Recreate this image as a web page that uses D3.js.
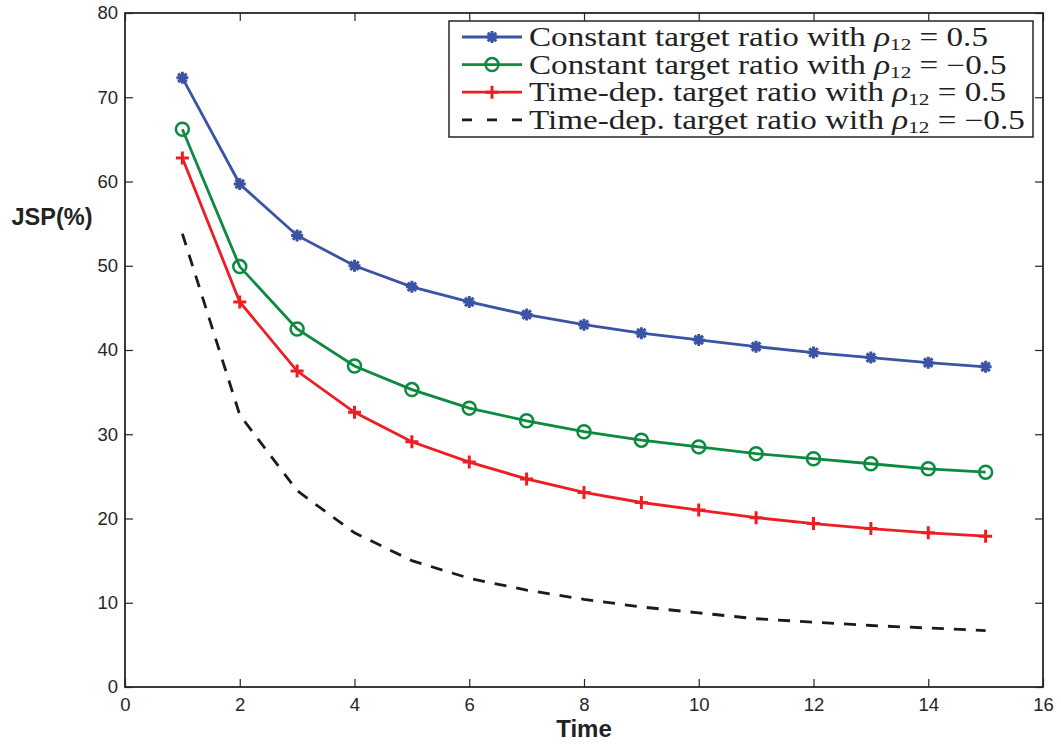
<!DOCTYPE html>
<html>
<head>
<meta charset="utf-8">
<script src="https://cdn.jsdelivr.net/npm/d3@7"></script>
<style>
  body { margin: 0; background: #fff; }
  svg { display: block; }
</style>
</head>
<body>
<div></div>
<script>
const width = 1061;
const height = 744;
const margin = { top: 13, right: 18, bottom: 57, left: 125 };

// values
const times = [1, 2, 3, 4, 5, 6, 7, 8, 9, 10, 11, 12, 13, 14, 15];
const constPos = [72.3, 59.7, 53.6, 50.0, 47.5, 45.7, 44.2, 43.0, 42.0, 41.2, 40.4, 39.7, 39.1, 38.5, 38.0];
const constNeg = [66.2, 49.9, 42.5, 38.1, 35.3, 33.1, 31.6, 30.3, 29.3, 28.5, 27.7, 27.1, 26.5, 25.9, 25.5];
const timePos = [62.8, 45.7, 37.5, 32.6, 29.1, 26.7, 24.7, 23.1, 21.9, 21.0, 20.1, 19.4, 18.8, 18.3, 17.9];
const timeNeg = [53.8, 32.3, 23.3, 18.3, 15.0, 12.9, 11.5, 10.4, 9.5, 8.8, 8.1, 7.7, 7.3, 7.0, 6.7];

const xTicks = [0, 2, 4, 6, 8, 10, 12, 14, 16];
const yTicks = [0, 10, 20, 30, 40, 50, 60, 70, 80];

const legendNames = [
  { pre: "Constant target ratio with ", post: " = 0.5" },
  { pre: "Constant target ratio with ", post: " = \u22120.5" },
  { pre: "Time-dep. target ratio with ", post: " = 0.5" },
  { pre: "Time-dep. target ratio with ", post: " = \u22120.5" },
];

const series = [
  { values: constPos, color: "#3a53a4", marker: "star", dash: null },
  { values: constNeg, color: "#0c8a3e", marker: "circle", dash: null },
  { values: timePos, color: "#ee1d24", marker: "plus", dash: null },
  { values: timeNeg, color: "#1c1a1a", marker: null, dash: "12,10" },
];

const svg = d3
  .select("div")
  .append("svg")
  .attr("width", width)
  .attr("height", height);

const xScale = d3
  .scaleLinear()
  .domain([0, 16])
  .range([margin.left, width - margin.right]);

const yScale = d3
  .scaleLinear()
  .domain([0, 80])
  .range([height - margin.bottom, margin.top]);

const tickFont = "'Liberation Sans', Arial, sans-serif";
const axisColor = "#262626";

// axes with inward ticks
const xAxis = d3.axisBottom(xScale).tickValues(xTicks).tickSizeInner(-8).tickSizeOuter(0).tickPadding(11);
const yAxis = d3.axisLeft(yScale).tickValues(yTicks).tickSizeInner(-8).tickSizeOuter(0).tickPadding(7);
const xTop = d3.axisTop(xScale).tickValues(xTicks).tickSizeInner(-8).tickSizeOuter(0).tickFormat("");
const yRight = d3.axisRight(yScale).tickValues(yTicks).tickSizeInner(-8).tickSizeOuter(0).tickFormat("");

function styleAxis(g) {
  g.select(".domain").remove();
  g.selectAll(".tick line").attr("stroke", axisColor).attr("stroke-width", 1.2);
  g.selectAll(".tick text")
    .attr("fill", "#262626")
    .style("font-family", tickFont)
    .style("font-size", "18.5px");
}

svg.append("g")
  .attr("transform", "translate(0," + yScale(0) + ")")
  .call(xAxis)
  .call(styleAxis);

svg.append("g")
  .attr("transform", "translate(" + xScale(0) + ",0)")
  .call(yAxis)
  .call(styleAxis);

svg.append("g")
  .attr("transform", "translate(0," + yScale(80) + ")")
  .call(xTop)
  .call(styleAxis);

svg.append("g")
  .attr("transform", "translate(" + xScale(16) + ",0)")
  .call(yRight)
  .call(styleAxis);

svg.append("rect")
  .attr("x", xScale(0))
  .attr("y", yScale(80))
  .attr("width", xScale(16) - xScale(0))
  .attr("height", yScale(0) - yScale(80))
  .attr("fill", "none")
  .attr("stroke", axisColor)
  .attr("stroke-width", 1.8);

// axis titles
svg.append("text")
  .attr("x", 52)
  .attr("y", 225)
  .attr("text-anchor", "middle")
  .style("font-family", tickFont)
  .style("font-weight", "bold")
  .style("font-size", "23.5px")
  .attr("fill", "#222")
  .text("JSP(%)");

svg.append("text")
  .attr("x", xScale(8))
  .attr("y", 737)
  .attr("text-anchor", "middle")
  .style("font-family", tickFont)
  .style("font-weight", "bold")
  .style("font-size", "24px")
  .attr("fill", "#222")
  .text("Time");

// marker shapes
const starSymbol = {
  draw(ctx, size) {
    const r = Math.sqrt(size) / 2;
    const d = r * Math.SQRT1_2;
    ctx.moveTo(-r, 0); ctx.lineTo(r, 0);
    ctx.moveTo(0, -r); ctx.lineTo(0, r);
    ctx.moveTo(-d, -d); ctx.lineTo(d, d);
    ctx.moveTo(-d, d); ctx.lineTo(d, -d);
  },
};
const plusSymbol = {
  draw(ctx, size) {
    const r = Math.sqrt(size) / 2;
    ctx.moveTo(-r, 0); ctx.lineTo(r, 0);
    ctx.moveTo(0, -r); ctx.lineTo(0, r);
  },
};

function drawMarker(g, type, color, x, y) {
  if (type === "circle") {
    g.append("circle")
      .attr("cx", x).attr("cy", y).attr("r", 6.5)
      .attr("fill", "none").attr("stroke", color).attr("stroke-width", 2.5);
  } else if (type === "star") {
    g.append("path")
      .attr("transform", "translate(" + x + "," + y + ")")
      .attr("d", d3.symbol().type(starSymbol).size(144)())
      .attr("fill", "none").attr("stroke", color).attr("stroke-width", 3);
  } else if (type === "plus") {
    g.append("path")
      .attr("transform", "translate(" + x + "," + y + ")")
      .attr("d", d3.symbol().type(plusSymbol).size(169)())
      .attr("fill", "none").attr("stroke", color).attr("stroke-width", 3);
  }
}

const line = d3
  .line()
  .x((d, i) => xScale(times[i]))
  .y((d) => yScale(d));

series.forEach((s) => {
  const g = svg.append("g");
  g.append("path")
    .datum(s.values)
    .attr("d", line)
    .attr("fill", "none")
    .attr("stroke", s.color)
    .attr("stroke-width", 2.8)
    .attr("stroke-dasharray", s.dash);
  if (s.marker) {
    s.values.forEach((v, i) => drawMarker(g, s.marker, s.color, xScale(times[i]), yScale(v)));
  }
});

// legend
const legend = svg.append("g").attr("id", "legend");
legend.append("rect")
  .attr("x", 449)
  .attr("y", 21)
  .attr("width", 584)
  .attr("height", 116)
  .attr("fill", "#fff")
  .attr("stroke", axisColor)
  .attr("stroke-width", 1.5);

const serif = "'Liberation Serif', 'Times New Roman', serif";
series.forEach((s, i) => {
  const cy = 37 + i * 27.6;
  legend.append("line")
    .attr("x1", 462).attr("x2", 522)
    .attr("y1", cy).attr("y2", cy)
    .attr("stroke", s.color)
    .attr("stroke-width", 2.8)
    .attr("stroke-dasharray", s.dash ? "10,15" : null);
  if (s.marker) drawMarker(legend, s.marker, s.color, 492, cy);

  // Computer Modern is much wider than Times, so stretch horizontally
  const t = legend.append("text")
    .attr("transform", "translate(529," + (cy + 9) + ") scale(1.25,1)")
    .attr("fill", "#222")
    .style("font-family", serif)
    .style("font-size", "26.5px");
  t.append("tspan").text(legendNames[i].pre);
  t.append("tspan").style("font-style", "italic").text("\u03c1");
  t.append("tspan").attr("dy", 4).style("font-size", "17px").text("12");
  t.append("tspan").attr("dy", -4).text(legendNames[i].post);
});
</script>
</body>
</html>
